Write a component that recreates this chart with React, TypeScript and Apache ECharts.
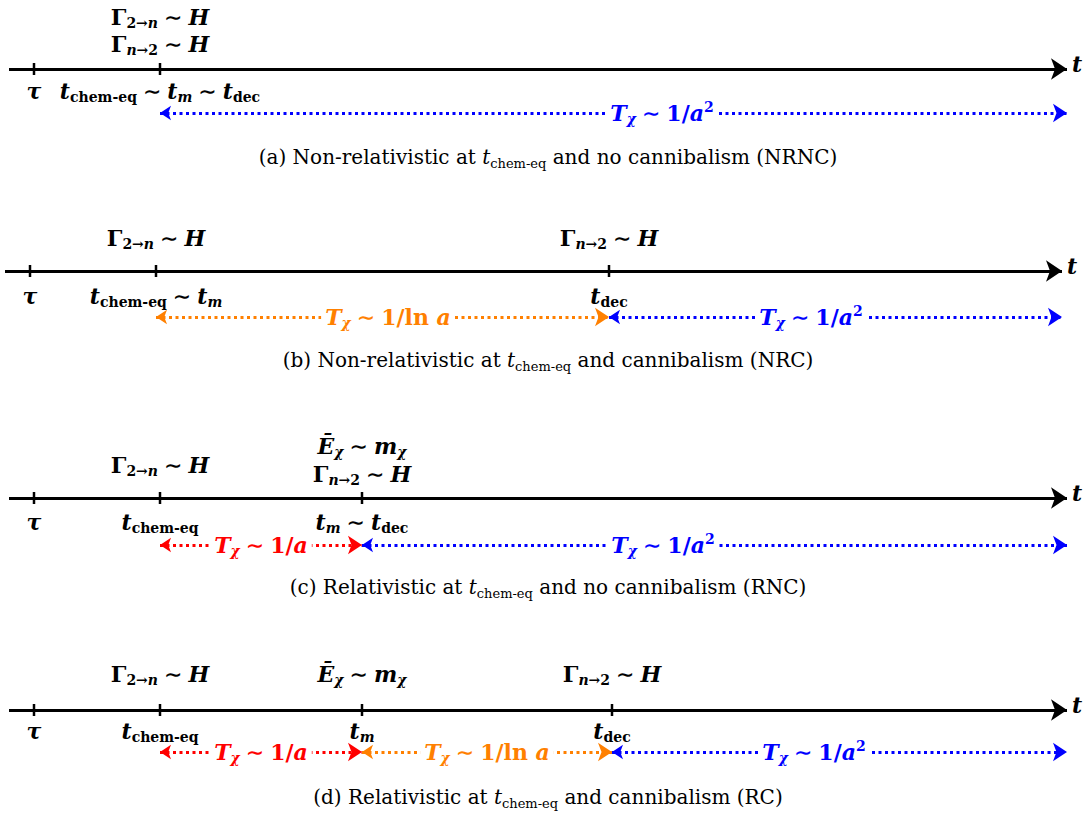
import React, { useEffect, useRef } from "react";
import * as echarts from "echarts";

// ---------- data ----------
const panelIds = ["a", "b", "c", "d"];
const axisStart = [9, 5, 9, 9];
const axisEnd = [1067, 1062, 1067, 1067];
const tickTimesA = [34, 160];
const tickTimesB = [30, 156, 609];
const tickTimesC = [34, 160, 362];
const tickTimesD = [34, 160, 362, 612];

const TAU = "{i|τ}";
const TCHEM = "{i|t}{s|chem-eq}";
const TM = "{i|t}{si|m}";
const TDEC = "{i|t}{s|dec}";
const SIM = "{op|∼}";
const G2N = "{u|Γ}{s|2→}{si|n}{op|∼}{i|H}";
const GN2 = "{u|Γ}{si|n}{s|→2}{op|∼}{i|H}";
const EM = "{i|Ē}{si|χ}{op|∼}{i|m}{si|χ}";

// [time, row, text]
const aboveA = [[160, "hi", G2N], [160, "lo", GN2]];
const aboveB = [[156, "mid", G2N], [609, "mid", GN2]];
const aboveC = [[160, "mid", G2N], [362, "hi", EM], [362, "lo", GN2]];
const aboveD = [[160, "mid", G2N], [362, "mid", EM], [612, "mid", GN2]];

const belowA = [[34, TAU], [160, TCHEM + SIM + TM + SIM + TDEC]];
const belowB = [[30, TAU], [156, TCHEM + SIM + TM], [609, TDEC]];
const belowC = [[34, TAU], [160, TCHEM], [362, TM + SIM + TDEC]];
const belowD = [[34, TAU], [160, TCHEM], [362, TM], [612, TDEC]];

// [from, to, regime, label position]
const segmentsA = [[160, 1067, "a2", 662]];
const segmentsB = [[156, 609, "lna", 388], [609, 1062, "a2", 811]];
const segmentsC = [[160, 362, "a", 261], [362, 1067, "a2", 663]];
const segmentsD = [[160, 362, "a", 261], [362, 612, "lna", 487], [612, 1067, "a2", 814]];

const regimeText: Record<string, string> = {
  a2: "{i|T}{si|χ}{op|∼}{u|1/}{i|a}{sup|2}",
  lna: "{i|T}{si|χ}{op|∼}{u|1/ln }{i|a}",
  a: "{i|T}{si|χ}{op|∼}{u|1/}{i|a}",
};
const regimeColor: Record<string, string> = { a2: "#0000ff", lna: "#ff8000", a: "#ff0000" };

const captions = [
  "(a) Non-relativistic at {ci|t}{cs|chem-eq} and no cannibalism (NRNC)",
  "(b) Non-relativistic at {ci|t}{cs|chem-eq} and cannibalism (NRC)",
  "(c) Relativistic at {ci|t}{cs|chem-eq} and no cannibalism (RNC)",
  "(d) Relativistic at {ci|t}{cs|chem-eq} and cannibalism (RC)",
];

// ---------- layout ----------
const layout = [
  { axisY: 69, hi: 17, lo: 44, mid: 30, below: 91, arrow: 113, caption: 157 },
  { axisY: 271, hi: 224, lo: 250, mid: 238, below: 296, arrow: 317, caption: 360 },
  { axisY: 498, hi: 446, lo: 474, mid: 465, below: 522, arrow: 545, caption: 587 },
  { axisY: 710, hi: 660, lo: 690, mid: 674, below: 731, arrow: 752, caption: 797 },
];
const ticksAll = [tickTimesA, tickTimesB, tickTimesC, tickTimesD];
const aboveAll = [aboveA, aboveB, aboveC, aboveD];
const belowAll = [belowA, belowB, belowC, belowD];
const segAll = [segmentsA, segmentsB, segmentsC, segmentsD];

const MF = "DejaVu Serif";
const MAIN = 22;
const SUB = 14;
const CAP = 20;
const rich = {
  i: { fontFamily: MF, fontStyle: "italic", fontWeight: "bold", fontSize: MAIN, lineHeight: 26 },
  u: { fontFamily: MF, fontWeight: "bold", fontSize: MAIN, lineHeight: 26 },
  op: { fontFamily: MF, fontWeight: "bold", fontSize: MAIN, lineHeight: 26, padding: [0, 6, 0, 6] },
  s: { fontFamily: MF, fontWeight: "bold", fontSize: SUB, lineHeight: 14, verticalAlign: "bottom" },
  si: { fontFamily: MF, fontStyle: "italic", fontWeight: "bold", fontSize: SUB, lineHeight: 14, verticalAlign: "bottom" },
  sup: { fontFamily: MF, fontWeight: "bold", fontSize: SUB, lineHeight: 14, verticalAlign: "top" },
  ci: { fontFamily: MF, fontStyle: "italic", fontSize: CAP, lineHeight: 26 },
  cs: { fontFamily: MF, fontSize: 13, lineHeight: 13, verticalAlign: "bottom" },
};

function buildOption() {
  const axes: any[] = [];
  const ticks: any[] = [];
  const labels: any[] = [];
  const dotted: Record<string, any[]> = { a2: [], lna: [], a: [] };

  panelIds.forEach((_, p) => {
    const L = layout[p];
    axes.push({ coords: [[axisStart[p], L.axisY], [axisEnd[p], L.axisY]] });
    labels.push({ value: [axisEnd[p] + 10, L.axisY - 5], label: { formatter: "{i|t}", color: "#000" } });
    ticksAll[p].forEach((t) => ticks.push([t, L.axisY]));
    aboveAll[p].forEach(([t, row, text]: any) =>
      labels.push({ value: [t, (L as any)[row]], label: { formatter: text, color: "#000" } })
    );
    belowAll[p].forEach(([t, text]: any) =>
      labels.push({ value: [t, L.below], label: { formatter: text, color: "#000" } })
    );
    segAll[p].forEach(([a, b, reg, at]: any) => {
      dotted[reg].push({ coords: [[a, L.arrow], [b, L.arrow]] });
      labels.push({
        value: [at, L.arrow],
        label: {
          formatter: regimeText[reg],
          color: regimeColor[reg],
          backgroundColor: "#fff",
          padding: [0, 4, 0, 4],
        },
      });
    });
    labels.push({
      value: [548, L.caption],
      label: { formatter: captions[p], color: "#000", fontFamily: MF, fontSize: CAP, fontWeight: "normal", lineHeight: 26 },
    });
  });

  const dottedSeries = Object.keys(dotted).map((reg) => ({
    type: "lines",
    coordinateSystem: "cartesian2d",
    silent: true,
    z: 2,
    symbol: ["arrow", "arrow"],
    symbolSize: [11, 14],
    lineStyle: { color: regimeColor[reg], width: 3, type: [3, 3.5], opacity: 1 },
    data: dotted[reg],
  }));

  return {
    animation: false,
    grid: { left: 0, right: 0, top: 0, bottom: 0 },
    xAxis: { type: "value", min: 0, max: 1085, show: false },
    yAxis: { type: "value", min: 0, max: 813, inverse: true, show: false },
    series: [
      {
        type: "lines",
        coordinateSystem: "cartesian2d",
        silent: true,
        z: 2,
        symbol: ["none", "arrow"],
        symbolSize: [12, 16],
        lineStyle: { color: "#000", width: 3, opacity: 1 },
        data: axes,
      },
      ...dottedSeries,
      {
        type: "scatter",
        silent: true,
        z: 3,
        symbol: "rect",
        symbolSize: [2.5, 12],
        itemStyle: { color: "#000", opacity: 1 },
        data: ticks,
      },
      {
        type: "scatter",
        silent: true,
        z: 4,
        symbolSize: 0,
        itemStyle: { color: "#fff", opacity: 1 },
        label: { show: true, position: "inside", color: "#000", opacity: 1, rich },
        data: labels,
      },
    ],
  };
}

export default function App() {
  const ref = useRef<HTMLDivElement>(null);
  useEffect(() => {
    if (!ref.current) return;
    const chart = echarts.init(ref.current, undefined, { renderer: "svg" });
    chart.setOption(buildOption() as any);
    return () => chart.dispose();
  }, []);
  return (
    <div
      ref={ref}
      style={{ position: "absolute", left: 0, top: 0, width: 1085, height: 813, background: "#fff" }}
    />
  );
}
